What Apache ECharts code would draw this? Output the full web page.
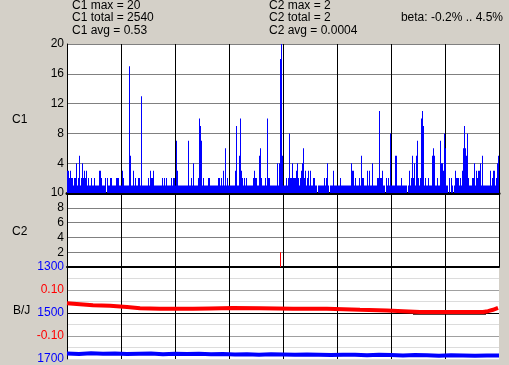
<!DOCTYPE html>
<html>
<head>
<meta charset="utf-8">
<script src="https://cdn.jsdelivr.net/npm/echarts@6/dist/echarts.min.js"></script>
<style>
html,body{margin:0;padding:0;background:#D4D0C8;}
#chart{width:509px;height:365px;}
</style>
</head>
<body>
<div id="chart"></div>
<script>
// ---- data (one value per pixel column) ----
const c1SegA = [3,3,2,3,2,2,1,2,2,4, 1,2,5,1,2,4,2,3,2,3, 1,2,1,1,2,1,1,2,1,1, 1,1,3,3,2,1,1,1,2,0, 2,1,1,2,2,1,1,1,1,2, 2,2,1,1];
const c1SegB = [1,3,2,1,1,1,1,1,17,5, 1,1,3,1,2,1,1,2,2,1, 13,1,1,1,1,1,1,2,1,3, 2,2,3,1,1,1,1,1,1,1, 1,2,1,2,1,2,1,1,1,1, 2,1,2,2];
const c1SegC = [1,7,3,1,1,1,1,1,1,1, 1,1,1,7,1,1,2,1,4,1, 1,1,1,2,10,9,7,1,2,1, 1,1,1,2,2,1,1,1,1,1, 1,1,1,2,2,1,2,1,3,1, 6,1,2,1];
const c1SegD = [1,1,1,1,1,1,3,9,1,1, 5,10,3,2,1,2,1,2,1,1, 1,1,1,1,2,3,2,2,1,1, 5,6,2,1,1,1,2,1,10,2, 2,1,1,1,1,1,1,1,4,1, 4,18,20,5];
const c1SegE = [1,1,1,2,1,2,8,2,2,4, 2,2,2,3,4,2,1,2,3,4, 6,2,3,1,2,3,1,3,1,1, 2,2,1,1,0,1,1,1,1,1, 1,2,1,2,4,1,0,1,1,1, 3,1,1,1];
const c1SegF = [1,1,1,2,1,1,1,1,1,1, 1,1,1,1,4,3,3,1,2,1, 1,1,2,1,5,2,2,1,1,1, 3,1,3,1,1,4,1,1,1,1, 2,2,11,2,2,3,1,1,0,2, 1,2,1,8];
const c1SegG = [1,1,1,1,5,5,1,1,1,1, 2,1,1,1,1,1,0,1,3,1, 2,5,2,4,1,5,7,2,1,2, 10,11,9,1,2,1,1,2,1,1, 1,5,6,5,1,1,2,1,1,7, 4,4,3,8];
const c1SegH = [6,1,1,0,2,0,2,1,0,1, 3,2,2,2,1,2,1,3,6,9, 6,5,8,2,1,1,1,2,2,4, 1,3,2,3,3,4,1,5,1,1, 1,1,1,1,1,3,1,2,3,3, 1,2,4,5];
const c1Values = [].concat(c1SegA, c1SegB, c1SegC, c1SegD, c1SegE, c1SegF, c1SegG, c1SegH);
const categories = c1Values.map((v, i) => String(i));

// C2: only one non-zero column
const c2Index = [213];
const c2Value = [2];

// B/J red line (column index, value)
const redIdx = [0, 13, 26, 43, 60, 73, 93, 126, 143, 166, 193, 226, 260, 293, 320, 336, 353, 376, 416, 421, 426, 431];
const redVal = [0.042, 0.038, 0.034, 0.031, 0.026, 0.021, 0.019, 0.018, 0.020, 0.022, 0.021, 0.019, 0.018, 0.014, 0.011, 0.008, 0.004, 0.004, 0.004, 0.008, 0.014, 0.022];

// dark segment under the red line near the right end
const darkIdx = [346, 419];
const darkVal = [-0.003, -0.003];

// blue line (column index, value on 1300..1700 scale)
const blueIdx = [0, 12, 24, 36, 48, 60, 72, 84, 96, 108, 120, 132, 144, 156, 168, 180, 192, 204, 216, 228, 240, 252, 264, 276, 288, 300, 312, 324, 336, 348, 360, 372, 384, 396, 408, 420, 432];
const blueVal = [1676, 1678, 1675, 1677, 1676, 1678, 1677, 1676, 1679, 1677, 1678, 1677, 1679, 1678, 1680, 1679, 1681, 1679, 1680, 1682, 1680, 1681, 1683, 1681, 1682, 1684, 1682, 1683, 1685, 1683, 1684, 1686, 1684, 1685, 1686, 1685, 1685];

// tick labels
const c1Ticks = [4, 8, 12, 16, 20];
const c2Ticks = [2, 4, 6, 8, 10];
const blueTicks = [1300, 1500, 1700];
const redTicks = [0.1, -0.1];

const FONT = '"Liberation Sans", Arial, sans-serif';
const chart = echarts.init(document.getElementById('chart'), null, {renderer: 'canvas'});

const vline = (idx) => idx > 0 && idx % 54 === 0;

const txt = (x, y, s, align) => ({
  type: 'text', x: x, y: y, silent: true,
  style: {text: s, fill: '#000', font: '12px ' + FONT, textAlign: align || 'left', textVerticalAlign: 'middle'}
});

const option = {
  backgroundColor: '#D4D0C8',
  animation: false,
  graphic: [
    txt(72, 5.5, 'C1 max = 20'),
    txt(72, 18, 'C1 total = 2540'),
    txt(72, 30.5, 'C1 avg = 0.53'),
    txt(269, 5.5, 'C2 max = 2'),
    txt(269, 18, 'C2 total = 2'),
    txt(269, 30.5, 'C2 avg = 0.0004'),
    txt(503, 18, 'beta: -0.2% .. 4.5%', 'right'),
    txt(12, 120, 'C1'),
    txt(12, 232, 'C2'),
    txt(13, 311, 'B/J')
  ],
  grid: [
    {left: 67, top: 44, width: 432, height: 149, show: true, backgroundColor: '#fff', borderWidth: 0},
    {left: 67, top: 193, width: 432, height: 74, show: true, backgroundColor: '#fff', borderWidth: 0},
    {left: 67, top: 267, width: 432, height: 94, show: true, backgroundColor: '#fff', borderWidth: 0}
  ],
  xAxis: [
    {type: 'category', gridIndex: 0, data: categories, boundaryGap: true,
     axisLine: {show: true, lineStyle: {color: '#000', width: 3}},
     axisTick: {show: false}, axisLabel: {show: false},
     splitLine: {show: true, interval: vline, lineStyle: {color: '#000', width: 1}}},
    {type: 'category', gridIndex: 1, data: categories, boundaryGap: true,
     axisLine: {show: true, lineStyle: {color: '#000', width: 2}},
     axisTick: {show: false}, axisLabel: {show: false},
     splitLine: {show: true, interval: vline, lineStyle: {color: '#000', width: 1}}},
    {type: 'value', gridIndex: 2, min: 0, max: 432, interval: 54,
     axisLine: {show: false}, axisTick: {show: false}, axisLabel: {show: false},
     splitLine: {show: true, showMinLine: false, showMaxLine: false, lineStyle: {color: '#000', width: 1}}}
  ],
  yAxis: [
    {type: 'value', gridIndex: 0, min: 0, max: 20, interval: 4, position: 'left',
     axisLine: {show: true, lineStyle: {color: '#000', width: 1}}, axisTick: {show: false},
     axisLabel: {margin: 3, color: '#000', fontFamily: FONT, fontSize: 12,
       formatter: v => c1Ticks.indexOf(v) >= 0 ? String(v) : ''},
     splitLine: {show: true, lineStyle: {color: '#808080', width: 1}}},
    {type: 'value', gridIndex: 1, min: 0, max: 10, interval: 2, position: 'left',
     axisLine: {show: true, lineStyle: {color: '#000', width: 1}}, axisTick: {show: false},
     axisLabel: {margin: 3, color: '#000', fontFamily: FONT, fontSize: 12,
       formatter: v => c2Ticks.indexOf(v) >= 0 ? String(v) : ''},
     splitLine: {show: true, lineStyle: {color: '#808080', width: 1}}},
    {type: 'value', gridIndex: 2, min: 1300, max: 1700, interval: 50, inverse: true, position: 'left',
     axisLine: {show: true, lineStyle: {color: '#000', width: 1}}, axisTick: {show: false},
     axisLabel: {margin: 3, color: '#0000FF', fontFamily: FONT, fontSize: 12,
       formatter: v => blueTicks.indexOf(v) >= 0 ? String(v) : ''},
     splitLine: {show: true, lineStyle: {width: 1,
       color: ['#000', '#dcdcdc', '#a0a0a0', '#dcdcdc', '#000', '#dcdcdc', '#a0a0a0', '#dcdcdc', '#dcdcdc']}}},
    {type: 'value', gridIndex: 2, min: -0.2, max: 0.2, interval: 0.1, position: 'left',
     axisLine: {show: false}, axisTick: {show: false},
     axisLabel: {margin: 3, color: '#FF0000', fontFamily: FONT, fontSize: 12,
       formatter: v => redTicks.some(t => Math.abs(t - v) < 1e-9) ? v.toFixed(2) : ''},
     splitLine: {show: false}}
  ],
  series: [
    {type: 'bar', name: 'C1', xAxisIndex: 0, yAxisIndex: 0, data: c1Values,
     barWidth: 1, barCategoryGap: '0%', itemStyle: {color: '#0000FF'}, silent: true},
    {type: 'bar', name: 'C2', xAxisIndex: 1, yAxisIndex: 1,
     data: c2Index.map((ix, k) => [ix, c2Value[k]]),
     barWidth: 1, itemStyle: {color: '#FF0000'}, silent: true},
    {type: 'line', name: 'dark', xAxisIndex: 2, yAxisIndex: 3,
     data: darkIdx.map((ix, k) => [ix, darkVal[k]]),
     showSymbol: false, lineStyle: {color: '#200000', width: 2}, silent: true, z: 4},
    {type: 'line', name: 'B/J', xAxisIndex: 2, yAxisIndex: 3,
     data: redIdx.map((ix, k) => [ix, redVal[k]]),
     showSymbol: false, lineStyle: {color: '#FF0000', width: 4}, silent: true, z: 5},
    {type: 'line', name: 'level', xAxisIndex: 2, yAxisIndex: 2,
     data: blueIdx.map((ix, k) => [ix, blueVal[k]]),
     showSymbol: false, lineStyle: {color: '#0000FF', width: 4}, silent: true, z: 5}
  ]
};
chart.setOption(option);
</script>
</body>
</html>
